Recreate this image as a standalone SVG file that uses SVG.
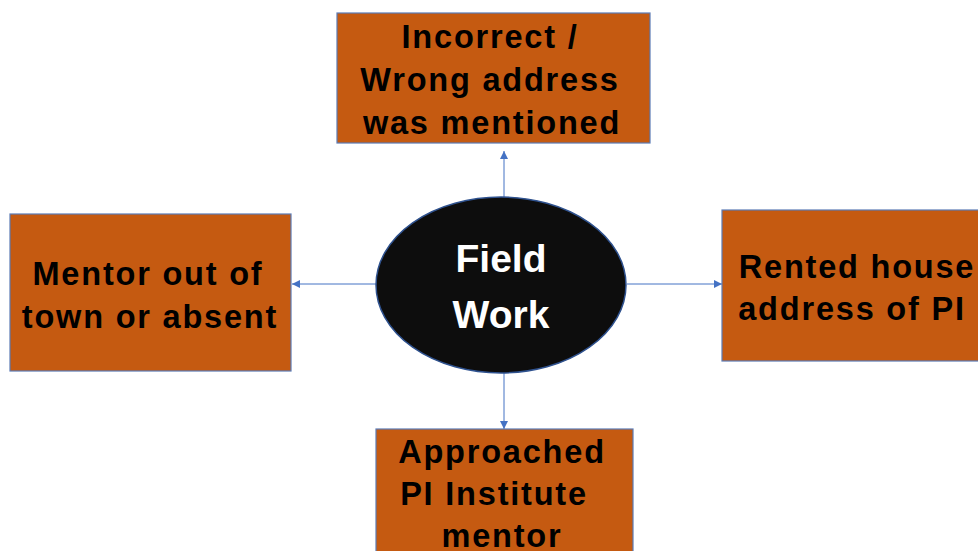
<svg xmlns="http://www.w3.org/2000/svg" width="978" height="551" viewBox="0 0 978 551">
<style>
.box{fill:#C55A11;stroke:#5B7BB5;stroke-width:1.2}
.t{font-family:"Liberation Sans",Arial,sans-serif;font-weight:bold;font-size:32.5px;fill:#000;text-anchor:middle;letter-spacing:1.8px}
.w{font-family:"Liberation Sans",Arial,sans-serif;font-weight:bold;font-size:39px;fill:#fff;text-anchor:middle}
.c{stroke:#4472C4;stroke-width:1;fill:none;marker-end:url(#ah)}
</style>
<defs>
<marker id="ah" viewBox="0 0 10 10" refX="10" refY="5" markerWidth="8" markerHeight="8" markerUnits="userSpaceOnUse" orient="auto">
<path d="M0,0 L10,5 L0,10 z" fill="#4472C4"/>
</marker>
</defs>
<rect width="978" height="551" fill="#fff"/>
<g id="connectors">
<line class="c" x1="504" y1="197" x2="504" y2="151"/>
<line class="c" x1="376" y1="284" x2="292" y2="284"/>
<line class="c" x1="627" y1="284" x2="722" y2="284"/>
<line class="c" x1="504" y1="373" x2="504" y2="429"/>
</g>
<g id="center">
<ellipse cx="501" cy="285" rx="125" ry="88" fill="#0D0D0D" stroke="#2F528F" stroke-width="1.5"/>
<text class="w" x="501" y="272">Field</text>
<text class="w" x="501" y="328">Work</text>
</g>
<g id="top">
<rect class="box" x="337" y="13" width="313" height="130"/>
<text class="t" x="490" y="48">Incorrect /</text>
<text class="t" x="490" y="91">Wrong address</text>
<text class="t" x="492" y="134">was mentioned</text>
</g>
<g id="left">
<rect class="box" x="10" y="214" width="281" height="157"/>
<text class="t" x="148" y="285">Mentor out of</text>
<text class="t" x="150" y="328">town or absent</text>
</g>
<g id="right">
<rect class="box" x="722" y="210" width="264" height="151"/>
<text class="t" x="857" y="278">Rented house</text>
<text class="t" x="852" y="320">address of PI</text>
</g>
<g id="bottom">
<rect class="box" x="376" y="429" width="257" height="130"/>
<text class="t" x="502" y="463">Approached</text>
<text class="t" x="494" y="505">PI Institute</text>
<text class="t" x="502" y="547">mentor</text>
</g>
</svg>
